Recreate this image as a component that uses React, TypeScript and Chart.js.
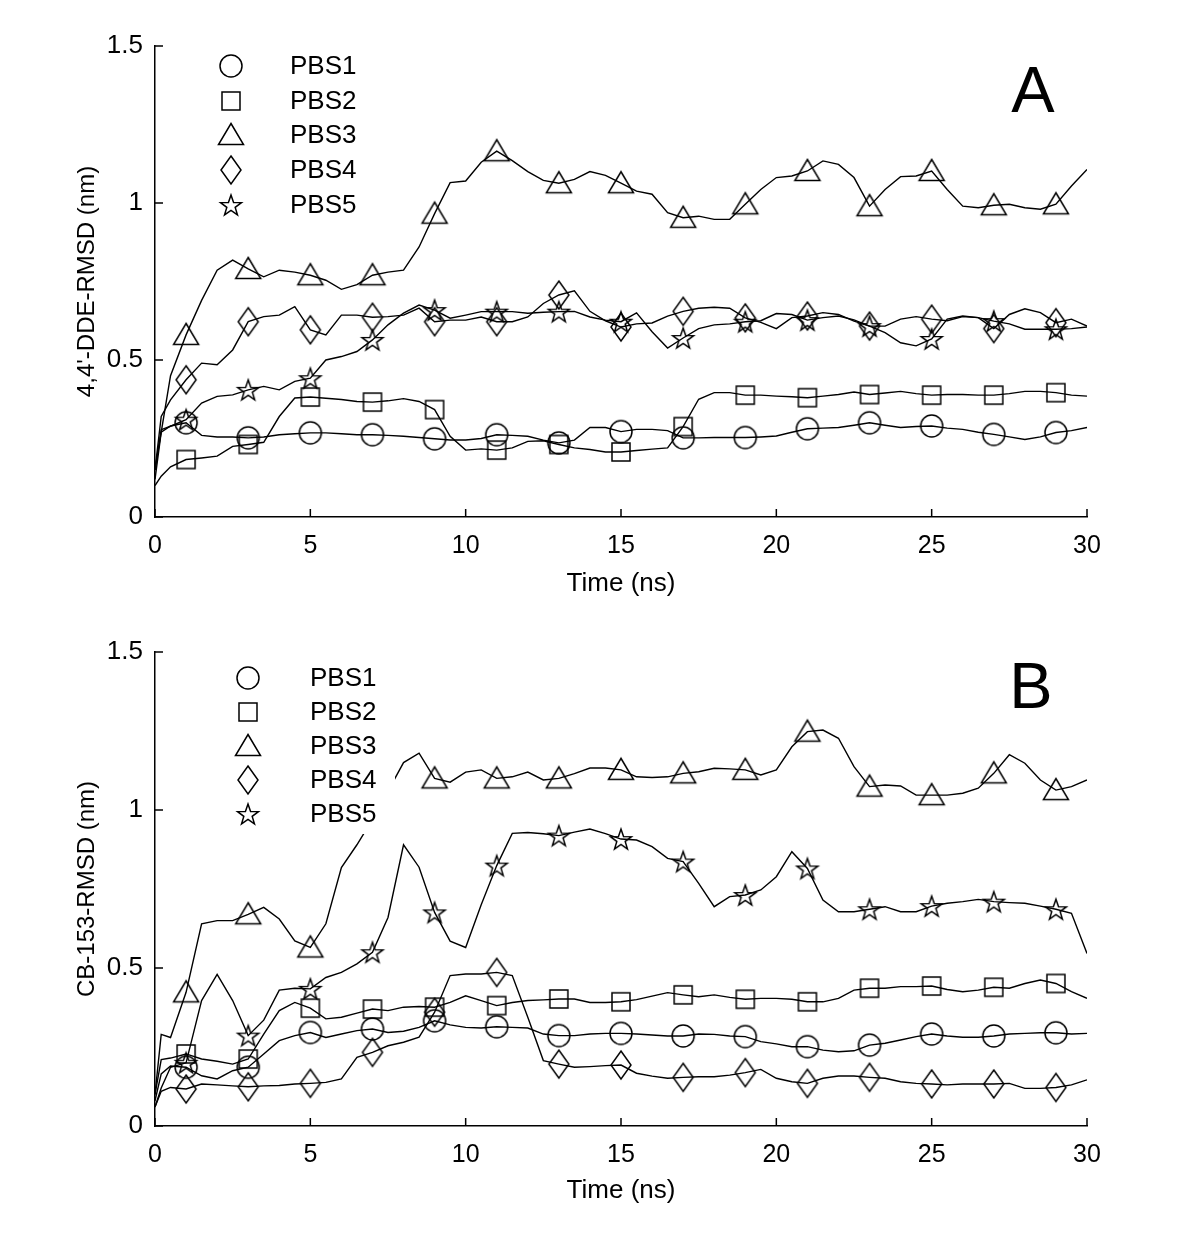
import React, { useEffect, useRef } from "react";
import { Chart, registerables } from "chart.js";

Chart.register(...registerables);

// ---------- data ----------
const TIME = [0, 0.2, 0.5, 1, 1.5, 2, 2.5, 3, 3.5, 4, 4.5, 5, 5.5, 6, 6.5, 7, 7.5, 8, 8.5, 9, 9.5, 10,
  10.5, 11, 11.5, 12, 12.5, 13, 13.5, 14, 14.5, 15, 15.5, 16, 16.5, 17, 17.5, 18, 18.5, 19, 19.5, 20,
  20.5, 21, 21.5, 22, 22.5, 23, 23.5, 24, 24.5, 25, 25.5, 26, 26.5, 27, 27.5, 28, 28.5, 29, 29.5, 30];

const MARKER_TIMES = [1, 3, 5, 7, 9, 11, 13, 15, 17, 19, 21, 23, 25, 27, 29];
const X_TICKS = [0, 5, 10, 15, 20, 25, 30];
const Y_TICKS = [0, 0.5, 1, 1.5];
const SERIES_LABELS = ["PBS1", "PBS2", "PBS3", "PBS4", "PBS5"];
const MARKER_KINDS = ["circle", "square", "triangle", "diamond", "star"];
const X_TITLE = "Time (ns)";
const Y_TITLE_A = "4,4'-DDE-RMSD (nm)";
const Y_TITLE_B = "CB-153-RMSD (nm)";

// Panel A (4,4'-DDE)
const A_PBS1 = [0.12, 0.27,
  0.29, 0.30, 0.26, 0.255, 0.255, 0.252, 0.255, 0.262, 0.265, 0.268,
  0.268, 0.265, 0.262, 0.262, 0.26, 0.257, 0.253, 0.249, 0.245, 0.245,
  0.25, 0.262, 0.26, 0.257, 0.245, 0.236, 0.245, 0.285, 0.285, 0.272,
  0.279, 0.279, 0.275, 0.252, 0.252, 0.253, 0.253, 0.253, 0.255, 0.258,
  0.27, 0.281, 0.283, 0.285, 0.292, 0.30, 0.292, 0.285, 0.288, 0.29,
  0.283, 0.279, 0.27, 0.263, 0.255, 0.247, 0.255, 0.269, 0.275, 0.285];
const A_PBS2 = [0.10, 0.13,
  0.16, 0.183, 0.188, 0.194, 0.225, 0.231, 0.238, 0.32, 0.379, 0.382,
  0.378, 0.374, 0.368, 0.366, 0.37, 0.377, 0.368, 0.342, 0.257, 0.213,
  0.217, 0.213, 0.22, 0.241, 0.243, 0.231, 0.22, 0.215, 0.207, 0.207,
  0.212, 0.216, 0.22, 0.288, 0.375, 0.396, 0.396, 0.388, 0.388, 0.385,
  0.383, 0.38, 0.385, 0.39, 0.398, 0.39, 0.395, 0.40, 0.393, 0.388,
  0.39, 0.39, 0.388, 0.388, 0.393, 0.40, 0.40, 0.396, 0.388, 0.385];
const A_PBS3 = [0.15, 0.27,
  0.45, 0.58, 0.69, 0.786, 0.818, 0.79, 0.765, 0.786, 0.78, 0.77,
  0.754, 0.725, 0.74, 0.77, 0.78, 0.786, 0.86, 0.966, 1.065, 1.07,
  1.13, 1.165, 1.135, 1.10, 1.072, 1.063, 1.075, 1.10, 1.088, 1.063,
  1.038, 1.028, 0.969, 0.953, 0.958, 0.948, 0.948, 0.996, 1.043, 1.081,
  1.086, 1.102, 1.134, 1.123, 1.081, 0.99, 1.043, 1.084, 1.086, 1.102,
  1.043, 0.99, 0.985, 0.993, 0.996, 0.985, 0.98, 0.996, 1.054, 1.107];
const A_PBS4 = [0.15, 0.32,
  0.373, 0.437, 0.49, 0.485, 0.532, 0.622, 0.638, 0.643, 0.67, 0.596,
  0.58, 0.643, 0.643, 0.636, 0.638, 0.643, 0.665, 0.622, 0.627, 0.627,
  0.637, 0.622, 0.622, 0.637, 0.68, 0.707, 0.72, 0.655, 0.625, 0.605,
  0.615, 0.618, 0.64, 0.655, 0.665, 0.668, 0.665, 0.634, 0.62, 0.60,
  0.635, 0.64, 0.651, 0.645, 0.624, 0.608, 0.608, 0.63, 0.638, 0.63,
  0.625, 0.638, 0.635, 0.60, 0.645, 0.663, 0.651, 0.619, 0.63, 0.608];
const A_PBS5 = [0.15, 0.278,
  0.289, 0.31, 0.363, 0.384, 0.389, 0.405, 0.416, 0.405, 0.432, 0.442,
  0.50, 0.511, 0.527, 0.564, 0.612, 0.649, 0.675, 0.659, 0.633, 0.643,
  0.654, 0.654, 0.654, 0.649, 0.652, 0.654, 0.655, 0.637, 0.627, 0.622,
  0.65, 0.59, 0.538, 0.57, 0.60, 0.612, 0.615, 0.622, 0.625, 0.648,
  0.645, 0.627, 0.635, 0.64, 0.628, 0.608, 0.587, 0.555, 0.545, 0.567,
  0.63, 0.64, 0.635, 0.624, 0.615, 0.598, 0.598, 0.598, 0.60, 0.605];

// Panel B (CB-153)
const B_PBS1 = [0.08, 0.165,
  0.19, 0.186, 0.159, 0.149, 0.175, 0.186, 0.228, 0.27, 0.286, 0.296,
  0.28, 0.291, 0.302, 0.307, 0.296, 0.30, 0.312, 0.333, 0.32, 0.312,
  0.31, 0.314, 0.312, 0.31, 0.291, 0.286, 0.286, 0.291, 0.293, 0.293,
  0.291, 0.288, 0.285, 0.285, 0.291, 0.29, 0.285, 0.283, 0.267, 0.26,
  0.251, 0.251, 0.24, 0.235, 0.238, 0.256, 0.262, 0.272, 0.283, 0.291,
  0.285, 0.281, 0.281, 0.285, 0.291, 0.293, 0.295, 0.295, 0.291, 0.293];
const B_PBS2 = [0.10, 0.21,
  0.215, 0.228, 0.212, 0.205, 0.196, 0.212, 0.291, 0.365, 0.391, 0.373,
  0.339, 0.344, 0.357, 0.37, 0.365, 0.376, 0.378, 0.376, 0.391, 0.412,
  0.397, 0.381, 0.391, 0.397, 0.399, 0.402, 0.402, 0.391, 0.391, 0.393,
  0.40, 0.411, 0.422, 0.415, 0.409, 0.415, 0.407, 0.401, 0.404, 0.404,
  0.401, 0.393, 0.393, 0.404, 0.43, 0.436, 0.436, 0.441, 0.441, 0.443,
  0.432, 0.425, 0.43, 0.439, 0.436, 0.451, 0.462, 0.451, 0.425, 0.404];
const B_PBS3 = [0.10, 0.29,
  0.28, 0.423, 0.64, 0.65, 0.65, 0.67, 0.692, 0.655, 0.586, 0.565,
  0.64, 0.818, 0.89, 0.97, 1.06, 1.15, 1.18, 1.10, 1.088, 1.12,
  1.127, 1.10, 1.105, 1.12, 1.095, 1.10, 1.115, 1.133, 1.133, 1.127,
  1.105, 1.103, 1.105, 1.116, 1.121, 1.132, 1.13, 1.127, 1.111, 1.127,
  1.20, 1.248, 1.253, 1.227, 1.137, 1.074, 1.079, 1.076, 1.047, 1.047,
  1.047, 1.053, 1.069, 1.116, 1.175, 1.148, 1.095, 1.063, 1.074, 1.095];
const B_PBS4 = [0.06, 0.11,
  0.122, 0.117, 0.133, 0.13, 0.127, 0.124, 0.127, 0.128, 0.133, 0.135,
  0.138, 0.149, 0.217, 0.233, 0.254, 0.265, 0.281, 0.36, 0.476, 0.481,
  0.481, 0.486, 0.476, 0.344, 0.207, 0.196, 0.186, 0.188, 0.191, 0.193,
  0.167, 0.158, 0.151, 0.154, 0.156, 0.156, 0.161, 0.169, 0.179, 0.151,
  0.14, 0.135, 0.151, 0.158, 0.158, 0.154, 0.151, 0.14, 0.135, 0.133,
  0.13, 0.133, 0.133, 0.133, 0.135, 0.119, 0.119, 0.122, 0.13, 0.146];
const B_PBS5 = [0.06, 0.12,
  0.186, 0.20, 0.397, 0.48, 0.397, 0.286, 0.335, 0.43, 0.436, 0.434,
  0.47, 0.486, 0.513, 0.55, 0.66, 0.89, 0.819, 0.676, 0.585, 0.565,
  0.70, 0.824, 0.926, 0.929, 0.925, 0.919, 0.93, 0.94, 0.925, 0.908,
  0.905, 0.884, 0.847, 0.837, 0.768, 0.694, 0.726, 0.731, 0.747, 0.789,
  0.868, 0.815, 0.715, 0.678, 0.678, 0.686, 0.694, 0.678, 0.678, 0.696,
  0.705, 0.71, 0.717, 0.71, 0.707, 0.705, 0.696, 0.686, 0.673, 0.546];

// ---------- styling / layout ----------
const FONT = "'Liberation Sans', Arial, Helvetica, sans-serif";

type PanelCfg = {
  series: number[][];
  yTitle: string;
  letter: string;
  letterX: number;
  letterY: number;
  padTop: number;
  xHeight: number;
  xTitlePad: number;
  legendMarkerX: number;
  legendTextX: number;
  legendRows: number[];
  legendBox: [number, number, number, number];
};

const PANEL_A: PanelCfg = {
  series: [A_PBS1, A_PBS2, A_PBS3, A_PBS4, A_PBS5],
  yTitle: Y_TITLE_A,
  letter: "A",
  letterX: 1033,
  letterY: 112,
  padTop: 46,
  xHeight: 107,
  xTitlePad: 25,
  legendMarkerX: 231,
  legendTextX: 290,
  legendRows: [66, 101, 135, 170, 205],
  legendBox: [205, 48, 170, 174],
};

const PANEL_B: PanelCfg = {
  series: [B_PBS1, B_PBS2, B_PBS3, B_PBS4, B_PBS5],
  yTitle: Y_TITLE_B,
  letter: "B",
  letterX: 1031,
  letterY: 84,
  padTop: 28,
  xHeight: 122,
  xTitlePad: 42,
  legendMarkerX: 248,
  legendTextX: 310,
  legendRows: [54, 88, 122, 156, 190],
  legendBox: [215, 31, 180, 179],
};

function makeMarker(kind: string): HTMLCanvasElement {
  const w = 30;
  const h = 34;
  const c = document.createElement("canvas");
  c.width = w;
  c.height = h;
  const g = c.getContext("2d") as CanvasRenderingContext2D;
  g.strokeStyle = "#000";
  g.lineWidth = 1.5;
  g.lineJoin = "miter";
  const cx = w / 2;
  const cy = h / 2;
  g.beginPath();
  if (kind === "circle") {
    g.arc(cx, cy, 11, 0, Math.PI * 2);
  } else if (kind === "square") {
    g.rect(cx - 9, cy - 9, 18, 18);
  } else if (kind === "triangle") {
    g.moveTo(cx, cy - 11.5);
    g.lineTo(cx + 12.5, cy + 9.5);
    g.lineTo(cx - 12.5, cy + 9.5);
    g.closePath();
  } else if (kind === "diamond") {
    g.moveTo(cx, cy - 14);
    g.lineTo(cx + 10, cy);
    g.lineTo(cx, cy + 14);
    g.lineTo(cx - 10, cy);
    g.closePath();
  } else {
    const R = 11;
    const r = 4.4;
    for (let k = 0; k < 10; k++) {
      const rad = k % 2 === 0 ? R : r;
      const a = -Math.PI / 2 + (k * Math.PI) / 5;
      const px = cx + rad * Math.cos(a);
      const py = cy + 1 + rad * Math.sin(a);
      if (k === 0) g.moveTo(px, py);
      else g.lineTo(px, py);
    }
    g.closePath();
  }
  g.stroke();
  return c;
}

function Panel({ cfg, top }: { cfg: PanelCfg; top: number }) {
  const ref = useRef<HTMLCanvasElement>(null);

  useEffect(() => {
    const canvas = ref.current;
    if (!canvas) return;
    const markers = MARKER_KINDS.map(makeMarker);
    const radii = TIME.map((t) => (MARKER_TIMES.includes(t) ? 10 : 0));

    const datasets = cfg.series.map((vals, si) => ({
      label: SERIES_LABELS[si],
      data: TIME.map((t, i) => ({ x: t, y: vals[i] })),
      borderColor: "#000",
      backgroundColor: "rgba(0,0,0,0)",
      borderWidth: 1.4,
      pointStyle: markers[si],
      pointRadius: radii,
      pointHoverRadius: radii,
      tension: 0,
      fill: false,
    }));

    const overlay = {
      id: "panelOverlay",
      afterDatasetsDraw(chart: any) {
        const ctx = chart.ctx as CanvasRenderingContext2D;
        ctx.save();
        const [bx, by, bw, bh] = cfg.legendBox;
        ctx.fillStyle = "#fff";
        ctx.fillRect(bx, by, bw, bh);
        ctx.fillStyle = "#000";
        ctx.font = `26px ${FONT}`;
        ctx.textAlign = "left";
        ctx.textBaseline = "middle";
        SERIES_LABELS.forEach((lab, i) => {
          const y = cfg.legendRows[i];
          const m = markers[i];
          ctx.drawImage(m, cfg.legendMarkerX - m.width / 2, y - m.height / 2);
          ctx.fillText(lab, cfg.legendTextX, y + 1);
        });
        ctx.font = `65px ${FONT}`;
        ctx.textAlign = "center";
        ctx.textBaseline = "alphabetic";
        ctx.fillText(cfg.letter, cfg.letterX, cfg.letterY);
        ctx.restore();
      },
      afterDraw(chart: any) {
        const ctx = chart.ctx as CanvasRenderingContext2D;
        const area = chart.chartArea;
        const xs = chart.scales.x;
        const ys = chart.scales.y;
        ctx.save();
        ctx.strokeStyle = "#000";
        ctx.lineWidth = 1.5;
        ctx.beginPath();
        for (const t of xs.ticks) {
          const px = xs.getPixelForValue(t.value);
          ctx.moveTo(px, area.bottom);
          ctx.lineTo(px, area.bottom - 8);
        }
        for (const t of ys.ticks) {
          const py = ys.getPixelForValue(t.value);
          ctx.moveTo(area.left, py);
          ctx.lineTo(area.left + 8, py);
        }
        ctx.stroke();
        ctx.restore();
      },
    };

    const chart = new Chart(canvas, {
      type: "line",
      data: { datasets } as any,
      options: {
        animation: false,
        responsive: false,
        events: [],
        layout: { padding: { top: cfg.padTop, right: 113, left: 0, bottom: 0 } },
        plugins: {
          legend: { display: false },
          tooltip: { enabled: false },
        },
        scales: {
          x: {
            type: "linear",
            min: 0,
            max: 30,
            afterBuildTicks: (s: any) => {
              s.ticks = X_TICKS.map((v) => ({ value: v }));
            },
            afterFit: (s: any) => {
              s.height = cfg.xHeight;
            },
            grid: { display: false, drawTicks: false },
            border: { display: true, color: "#000", width: 1.5 },
            ticks: {
              color: "#000",
              font: { family: FONT, size: 25 },
              padding: 14,
              maxRotation: 0,
              autoSkip: false,
              callback: (v: any) => String(v),
            },
            title: {
              display: true,
              text: X_TITLE,
              color: "#000",
              font: { family: FONT, size: 26 },
              padding: { top: 0, bottom: cfg.xTitlePad },
            },
          },
          y: {
            type: "linear",
            min: 0,
            max: 1.5,
            afterBuildTicks: (s: any) => {
              s.ticks = Y_TICKS.map((v) => ({ value: v }));
            },
            afterFit: (s: any) => {
              s.width = 155;
            },
            grid: { display: false, drawTicks: false },
            border: { display: true, color: "#000", width: 1.5 },
            ticks: {
              color: "#000",
              font: { family: FONT, size: 26 },
              padding: 12,
              autoSkip: false,
              callback: (v: any) => String(v),
            },
            title: {
              display: true,
              text: cfg.yTitle,
              color: "#000",
              font: { family: FONT, size: 24 },
              padding: { top: 73, bottom: 0 },
            },
          },
        },
      } as any,
      plugins: [overlay],
    });
    return () => chart.destroy();
  }, [cfg]);

  return (
    <canvas
      ref={ref}
      width={1200}
      height={624}
      style={{ position: "absolute", left: 0, top, width: 1200, height: 624, display: "block" }}
    />
  );
}

export default function App() {
  return (
    <div style={{ position: "absolute", left: 0, top: 0, width: 1200, height: 1248, background: "#fff" }}>
      <Panel cfg={PANEL_A} top={0} />
      <Panel cfg={PANEL_B} top={624} />
    </div>
  );
}
